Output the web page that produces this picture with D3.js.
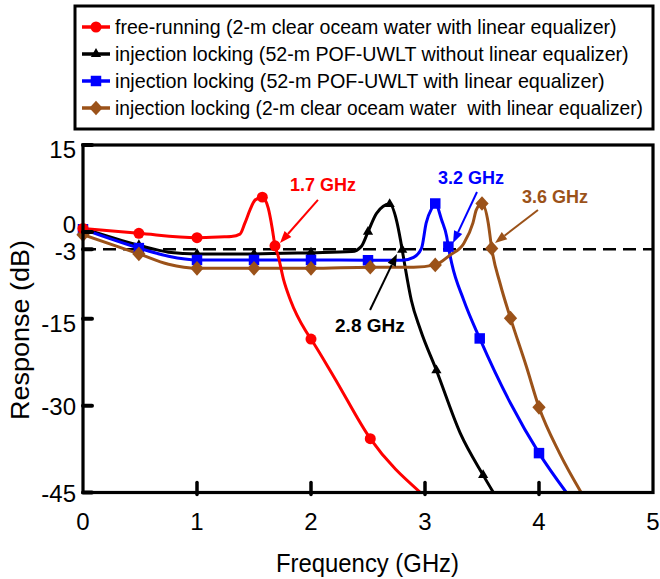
<!DOCTYPE html>
<html><head><meta charset="utf-8">
<script src="https://cdn.jsdelivr.net/npm/d3@7"></script>
<style>
html,body{margin:0;padding:0;background:#fff;}
svg text{font-family:"Liberation Sans",Arial,Helvetica,sans-serif;}
</style></head>
<body><svg id="chart" width="660" height="579"></svg>
<script>
// ---------- data ----------
const xTicks = [0, 1, 2, 3, 4, 5];
const yTicks = [15, 0, -3, -15, -30, -45];
const refLevel = -3;

const seriesNames = [
  "free-running (2-m clear oceam water with linear equalizer)",
  "injection locking (52-m POF-UWLT without linear equalizer)",
  "injection locking (52-m POF-UWLT with linear equalizer)",
  "injection locking (2-m clear oceam water  with linear equalizer)"
];
const seriesColors = ["#ff0000", "#000000", "#0000ff", "#9b5219"];
const seriesShapes = ["circle", "triangle", "square", "diamond"];

// curve traces [GHz, dB]
const redCurve = [[0,0.6],[0.49,-0.25],[1.0,-1.0],[1.24,-0.85],[1.3,-0.8],[1.377,-0.4],[1.42,1.5],[1.465,3.8],[1.51,5.5],[1.573,6.0],[1.625,4.1],[1.66,0.6],[1.684,-2.4],[1.71,-4.0],[1.76,-8.3],[1.82,-11.8],[1.95,-17],[2.0,-18.5],[2.2,-25.0],[2.52,-35.7],[2.96,-45]];
const blackCurve = [[0,0.6],[0.49,-2.3],[0.75,-3.5],[1.0,-3.8],[1.5,-3.8],[2.0,-3.6],[2.36,-3.4],[2.44,-2.55],[2.5,0.0],[2.575,3.2],[2.69,4.8],[2.75,2.0],[2.785,-1.4],[2.8,-3.1],[2.825,-6.0],[2.88,-11.8],[2.96,-16.9],[3.1,-23.9],[3.31,-34.8],[3.51,-42],[3.6,-45]];
const blueCurve = [[0,0.45],[0.49,-2.8],[0.75,-4.2],[1.0,-4.85],[1.5,-4.85],[2.0,-4.85],[2.5,-4.9],[2.8,-4.9],[2.9,-4.4],[2.97,-2.8],[3.01,1.5],[3.06,4.1],[3.09,4.9],[3.146,2.05],[3.19,-0.8],[3.205,-2.55],[3.234,-5.4],[3.34,-11.8],[3.48,-18.4],[3.75,-29.6],[4.0,-38.2],[4.24,-45]];
const brownCurve = [[0,-0.5],[0.49,-3.8],[0.75,-5.6],[1.0,-6.3],[1.5,-6.3],[2.0,-6.3],[2.52,-6.1],[2.9,-6.1],[3.09,-5.7],[3.22,-4.0],[3.34,-2.0],[3.42,1.5],[3.45,3.8],[3.5,4.9],[3.555,1.5],[3.585,-2.85],[3.66,-9.0],[3.75,-14.9],[3.89,-23.3],[4.0,-30.3],[4.18,-38.2],[4.37,-45]];

// marker positions [GHz, dB]
const redMarkers = [[0,0.6],[0.49,-0.25],[1.0,-1.0],[1.573,6.0],[1.684,-2.4],[2.0,-18.5],[2.52,-35.7]];
const blackMarkers = [[0,0.6],[0.49,-2.3],[1.0,-3.8],[1.5,-3.8],[2.0,-3.6],[2.5,0.0],[2.69,4.8],[2.8,-3.1],[3.1,-23.9],[3.51,-42]];
const blueMarkers = [[0,0.45],[0.49,-2.8],[1.0,-4.85],[1.5,-4.85],[2.0,-4.85],[2.5,-4.9],[3.09,4.9],[3.205,-2.55],[3.48,-18.4],[4.0,-38.2]];
const brownMarkers = [[0,-0.5],[0.49,-3.8],[1.0,-6.3],[1.5,-6.3],[2.0,-6.3],[2.52,-6.1],[3.09,-5.7],[3.5,4.9],[3.585,-2.85],[3.75,-14.9],[4.0,-30.3]];

// annotations: label text, label anchor [GHz,dB], arrow from, arrow to
const annoTexts = ["1.7 GHz", "2.8 GHz", "3.2 GHz", "3.6 GHz"];
const annoLabelPos = [[1.816,6.98],[2.211,-17.3],[3.114,8.19],[3.851,4.9]];
const annoArrowFrom = [[2.061,5.51],[2.518,-13.49],[3.456,6.89],[3.991,3.78]];
const annoArrowTo = [[1.728,-1.92],[2.754,-3.82],[3.246,-1.92],[3.614,-1.92]];

// ---------- layout ----------
const svg = d3.select("#chart");
const L = 83, R = 653, T = 145, B = 492.5;
const x = d3.scaleLinear().domain([0,5]).range([L,R]);
const y = d3.scaleLinear().domain([-45,15]).range([B,T]);

const curves = [redCurve, blackCurve, blueCurve, brownCurve];
const markers = [redMarkers, blackMarkers, blueMarkers, brownMarkers];

// dashed -3 dB line
svg.append("line").attr("x1", x(0)).attr("x2", x(5)).attr("y1", y(refLevel)).attr("y2", y(refLevel))
  .attr("stroke", "#000").attr("stroke-width", 2.5).attr("stroke-dasharray", "13,7");

// marker drawing
const symTypes = {circle: d3.symbolCircle, triangle: d3.symbolTriangle, square: d3.symbolSquare, diamond: d3.symbolSquare};
const symSizes = {circle: 95, triangle: 45, square: 110, diamond: 88};
function drawMarker(g, shape, color, cx, cy) {
  g.append("path").attr("d", d3.symbol().type(symTypes[shape]).size(symSizes[shape])())
    .attr("transform", shape === "diamond" ? `translate(${cx},${cy}) scale(1,1.1) rotate(45)` : `translate(${cx},${cy})`)
    .attr("fill", color);
}

const lineGen = d3.line().x(d => x(d[0])).y(d => y(d[1])).curve(d3.curveMonotoneX);
svg.append("clipPath").attr("id", "pc").append("rect")
  .attr("x", L).attr("y", T).attr("width", R - L).attr("height", B - T);
const plotG = svg.append("g").attr("clip-path", "url(#pc)");
const order = [1, 2, 3, 0];
order.forEach(i => {
  plotG.append("path").datum(curves[i]).attr("d", lineGen)
    .attr("fill", "none").attr("stroke", seriesColors[i]).attr("stroke-width", 3);
});
const mg = svg.append("g");
order.forEach(i => {
  markers[i].forEach(d => drawMarker(mg, seriesShapes[i], seriesColors[i], x(d[0]), y(d[1])));
});

// annotations
annoTexts.forEach((t, i) => {
  const c = seriesColors[i];
  const x1 = x(annoArrowFrom[i][0]), y1 = y(annoArrowFrom[i][1]);
  const x2 = x(annoArrowTo[i][0]), y2 = y(annoArrowTo[i][1]);
  const ang = Math.atan2(y2 - y1, x2 - x1);
  const hl = 12, hw = 4.5;
  const bx = x2 - hl * Math.cos(ang), by = y2 - hl * Math.sin(ang);
  svg.append("line").attr("x1", x1).attr("y1", y1).attr("x2", bx).attr("y2", by)
    .attr("stroke", c).attr("stroke-width", 2);
  const px = -Math.sin(ang), py = Math.cos(ang);
  svg.append("path").attr("d", `M${x2},${y2}L${bx + px*hw},${by + py*hw}L${bx - px*hw},${by - py*hw}Z`).attr("fill", c);
  svg.append("text").attr("x", x(annoLabelPos[i][0])).attr("y", y(annoLabelPos[i][1]))
    .attr("font-size", i === 1 ? 19 : 18).attr("font-weight", "bold").attr("fill", c).text(t);
});

// frame & axes
svg.append("rect").attr("x", L).attr("y", T).attr("width", R - L).attr("height", B - T)
  .attr("fill", "none").attr("stroke", "#000").attr("stroke-width", 3.2);

// y ticks
yTicks.forEach(v => {
  svg.append("line").attr("x1", L).attr("x2", L + 9).attr("y1", y(v)).attr("y2", y(v))
    .attr("stroke", "#000").attr("stroke-width", 4).attr("stroke-linecap", "round");
  const nudge = v === 0 ? -7.5 : (v === -3 ? 2 : (v === -15 ? 4.5 : (v === 15 ? 4 : 0.5)));
  svg.append("text").attr("x", 76).attr("y", y(v) + nudge).attr("text-anchor", "end")
    .attr("dominant-baseline", "central").attr("font-size", 24).text(v);
});
// x ticks
xTicks.forEach(v => {
  if (v > 0 && v < 5) {
    svg.append("line").attr("x1", x(v)).attr("x2", x(v)).attr("y1", B - 10).attr("y2", B + 2)
      .attr("stroke", "#000").attr("stroke-width", 3.5).attr("stroke-linecap", "round");
  }
  svg.append("text").attr("x", x(v)).attr("y", 530).attr("text-anchor", "middle")
    .attr("font-size", 24).text(v);
});

// axis titles
svg.append("text").attr("x", (L + R) / 2 - 0.5).attr("y", 572).attr("text-anchor", "middle")
  .attr("font-size", 26).attr("textLength", 183).attr("lengthAdjust", "spacingAndGlyphs").text("Frequency (GHz)");
svg.append("text").attr("transform", "translate(29,330) rotate(-90)").attr("text-anchor", "middle")
  .attr("font-size", 25).attr("textLength", 180).attr("lengthAdjust", "spacingAndGlyphs").text("Response (dB)");

// legend
svg.append("rect").attr("x", 75).attr("y", 6).attr("width", 578).attr("height", 123)
  .attr("fill", "#fff").attr("stroke", "#000").attr("stroke-width", 3);
const legWidths = [502, 514, 490, 528];
seriesNames.forEach((n, i) => {
  const cy = 27 + i * 27;
  svg.append("line").attr("x1", 82).attr("x2", 110).attr("y1", cy).attr("y2", cy)
    .attr("stroke", seriesColors[i]).attr("stroke-width", 3.5);
  drawMarker(svg, seriesShapes[i], seriesColors[i], 96, cy);
  const tg = svg.append("g");
  const tx = tg.append("text").attr("x", 0).attr("y", 0).attr("font-size", 20)
    .attr("xml:space", "preserve").style("white-space", "pre").text(n);
  const natural = tx.node().getComputedTextLength();
  tg.attr("transform", `translate(115,${cy + 7}) scale(${legWidths[i] / natural},1)`);
});
</script></body></html>
